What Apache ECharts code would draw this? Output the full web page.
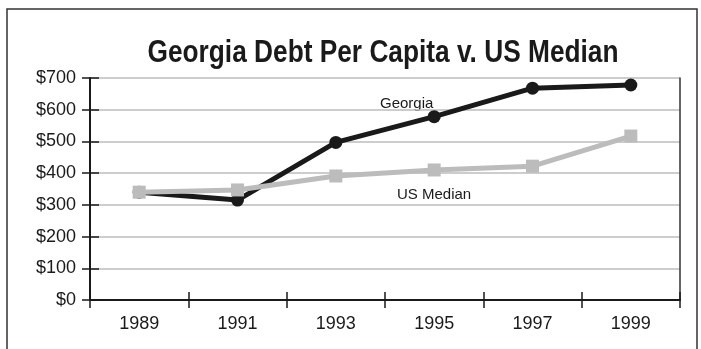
<!DOCTYPE html>
<html>
<head>
<meta charset="utf-8">
<script src="https://cdn.jsdelivr.net/npm/echarts@6/dist/echarts.min.js"></script>
<style>
  html, body { margin: 0; padding: 0; background: #fff; }
  #chart { width: 701px; height: 349px; }
</style>
</head>
<body>
<div id="chart"></div>
<script>
// Per-capita debt, Georgia vs. US median, odd years 1989-1999
const years = ['1989', '1991', '1993', '1995', '1997', '1999'];
const georgia = [340, 315, 497, 578, 668, 678];
const usMedian = [340, 347, 391, 410, 422, 517];
const yTicks = [0, 100, 200, 300, 400, 500, 600, 700];

const FONT = '"Liberation Sans", Arial, sans-serif';
const TITLE = 'Georgia Debt Per Capita v. US Median';
const TITLE_SIZE = 31;
const TITLE_WIDTH = 471;

// Condense the bold title horizontally to a narrow-face width
const measureCtx = document.createElement('canvas').getContext('2d');
measureCtx.font = 'bold ' + TITLE_SIZE + 'px ' + FONT;
const titleScaleX = TITLE_WIDTH / measureCtx.measureText(TITLE).width;

const chart = echarts.init(document.getElementById('chart'), null, { renderer: 'canvas' });

const yBase = {
  type: 'value',
  min: yTicks[0],
  max: yTicks[yTicks.length - 1],
  interval: 100
};

const tickStyle = { color: '#1a1a1a', width: 1.5 };

chart.setOption({
  animation: false,
  backgroundColor: '#fff',
  graphic: [
    {
      type: 'rect',
      shape: { x: 7, y: 9, width: 690, height: 360 },
      style: { fill: 'none', stroke: '#333', lineWidth: 1.5 },
      silent: true,
      z: -1
    },
    {
      type: 'text',
      x: 383, y: 38,
      scaleX: titleScaleX,
      style: {
        text: TITLE, fontFamily: FONT, fontWeight: 'bold', fontSize: TITLE_SIZE,
        fill: '#1a1a1a', align: 'center', verticalAlign: 'top'
      }
    },
    {
      type: 'text',
      x: 380, y: 96,
      style: { text: 'Georgia', fontFamily: FONT, fontSize: 15, fill: '#1a1a1a', verticalAlign: 'top' }
    },
    {
      type: 'text',
      x: 397, y: 187,
      style: { text: 'US Median', fontFamily: FONT, fontSize: 15, fill: '#1a1a1a', verticalAlign: 'top' }
    }
  ],
  grid: { left: 90, right: 21, top: 78, bottom: 49, containLabel: false },
  xAxis: [
    {
      type: 'category',
      data: years,
      boundaryGap: true,
      axisLine: { show: true, lineStyle: { color: '#1a1a1a', width: 2 } },
      axisTick: { show: true, interval: 0, length: 8, lineStyle: tickStyle },
      axisLabel: { margin: 15, fontFamily: FONT, fontSize: 18, color: '#1a1a1a' },
      splitLine: { show: false }
    },
    {
      type: 'category',
      data: years,
      position: 'bottom',
      boundaryGap: true,
      axisLine: { show: false },
      axisTick: { show: true, inside: true, interval: 0, length: 8, lineStyle: tickStyle },
      axisLabel: { show: false },
      splitLine: { show: false }
    }
  ],
  yAxis: [
    Object.assign({}, yBase, {
      position: 'left',
      axisLine: { show: true, lineStyle: { color: '#1a1a1a', width: 2 } },
      axisTick: { show: true, length: 8, lineStyle: tickStyle },
      axisLabel: {
        margin: 14, fontFamily: FONT, fontSize: 18, color: '#1a1a1a',
        formatter: v => '$' + v
      },
      splitLine: { show: true, lineStyle: { color: '#bdbdbd', width: 1.5 } }
    }),
    Object.assign({}, yBase, {
      position: 'left',
      axisLine: { show: false },
      axisTick: { show: true, inside: true, length: 9, lineStyle: tickStyle },
      axisLabel: { show: false },
      splitLine: { show: false }
    }),
    Object.assign({}, yBase, {
      position: 'right',
      axisLine: { show: true, lineStyle: { color: '#333', width: 1.5 } },
      axisTick: { show: false },
      axisLabel: { show: false },
      splitLine: { show: false }
    })
  ],
  series: [
    {
      name: 'US Median',
      type: 'line',
      data: usMedian,
      symbol: 'rect',
      symbolSize: 13,
      lineStyle: { color: '#bcbcbc', width: 5 },
      itemStyle: { color: '#bcbcbc' },
      z: 3
    },
    {
      name: 'Georgia',
      type: 'line',
      data: georgia,
      symbol: 'circle',
      symbolSize: 13,
      lineStyle: { color: '#1a1a1a', width: 5 },
      itemStyle: { color: '#1a1a1a' },
      z: 2
    }
  ]
});
</script>
</body>
</html>
